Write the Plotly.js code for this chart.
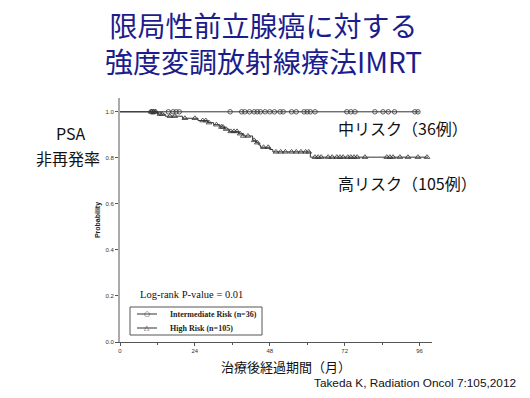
<!DOCTYPE html>
<html>
<head>
<meta charset="utf-8">
<script src="https://cdn.plot.ly/plotly-3.0.1.min.js"></script>
<style>html,body{margin:0;padding:0;background:#fff;}#chart{width:530px;height:398px;}</style>
</head>
<body>
<div id="chart"></div>
<script>
// Kaplan-Meier step data (months, survival probability)
const interTimes = [0, 96];
const interSurv = [1.0, 1.0];
const interCensor = [10, 10.5, 11, 15.5, 17, 18, 19, 35.3, 39, 40, 41.5, 43, 44, 45, 46.5, 48, 49.5, 51.3, 52.3, 55, 56.5, 59, 60, 61, 62.5, 72.7, 74, 75.3, 81.7, 84.3, 86, 88, 94.5, 95.5];

const highTimes = [0, 12, 14.5, 20, 25, 28, 30, 32, 33.5, 35, 38, 39.5, 42.5, 43.5, 44.5, 45, 48, 49, 61, 98.7];
const highSurv = [1.0, 0.99, 0.981, 0.972, 0.962, 0.953, 0.944, 0.934, 0.925, 0.915, 0.905, 0.895, 0.876, 0.866, 0.856, 0.846, 0.836, 0.826, 0.803, 0.803];
const highCensor = [10, 10.8, 11.5, 12.8, 13.5, 16, 17.5, 20.8, 24, 26.5, 27.5, 28.5, 30.9, 32.5, 33, 34, 35.5, 36.5, 37.5, 38.5, 39.5, 41, 43, 44, 46, 47.5, 50, 51.5, 53, 55, 56.5, 58, 59.5, 60.5, 62.5, 63.5, 64.5, 66.7, 68, 69.5, 70.5, 71.5, 73, 74, 75, 76, 78.5, 85.5, 86.5, 87.5, 89.7, 92.3, 95.5, 98.4];

const xTickVals = [0, 24, 48, 72, 96];
const yTickVals = [0.0, 0.2, 0.4, 0.6, 0.8, 1.0];
const legendNames = ["Intermediate Risk (n=36)", "High Risk (n=105)"];

function stepAt(times, surv, t) {
  let v = surv[0];
  for (let i = 0; i < times.length; i++) { if (times[i] <= t) v = surv[i]; }
  return v;
}

// plot area in pixels
const L = 120, R = 432, T = 98, B = 342;
const px = x => (x - L) / (R - L);
const py = y => (B - y) / (B - T);

const lineCol = '#333';
const traces = [
  {x: interTimes, y: interSurv, mode: 'lines', line: {shape: 'hv', color: lineCol, width: 1}, hoverinfo: 'skip'},
  {x: interCensor, y: interCensor.map(t => stepAt(interTimes, interSurv, t)), mode: 'markers',
   marker: {symbol: 'circle-open', size: 4.5, color: lineCol, line: {width: 0.8}}},
  {x: highTimes, y: highSurv, mode: 'lines', line: {shape: 'hv', color: lineCol, width: 1}, hoverinfo: 'skip'},
  {x: highCensor, y: highCensor.map(t => stepAt(highTimes, highSurv, t)), mode: 'markers',
   marker: {symbol: 'triangle-up-open', size: 5, color: lineCol, line: {width: 0.8}}}
];

const jp = '"Noto Sans CJK JP", "Noto Sans", sans-serif';
const titleCol = '#1c1c8c';
const serif = '"Liberation Serif", "Times New Roman", serif';

function ann(x, y, text, size, family, color, xanchor, extra) {
  return Object.assign({xref: 'paper', yref: 'paper', x: px(x), y: py(y), text: text, showarrow: false,
    font: {family: family, size: size, color: color}, xanchor: xanchor || 'center', yanchor: 'middle'}, extra || {});
}

const layout = {
  width: 530, height: 398,
  margin: {l: L, r: 530 - R, t: T, b: 398 - B},
  paper_bgcolor: '#fff', plot_bgcolor: '#fff',
  showlegend: false,
  xaxis: {range: [0, 100], tickvals: xTickVals, ticktext: xTickVals.map(String), showgrid: false, zeroline: false,
          showline: true, linecolor: '#555', linewidth: 1, ticks: 'outside', ticklen: 3, tickcolor: '#555',
          tickfont: {family: 'Arial, "Liberation Sans", sans-serif', size: 6, color: '#333'},
          minor: {tickvals: [12, 36, 60, 84], ticks: 'outside', ticklen: 2, tickcolor: '#555'}, fixedrange: true},
  yaxis: {range: [0, 1.06], tickvals: yTickVals, ticktext: yTickVals.map(v => v.toFixed(1)), showgrid: false, zeroline: false,
          showline: true, linecolor: '#aaa', linewidth: 2, ticks: 'outside', ticklen: 3, tickcolor: '#555',
          tickfont: {family: 'Arial, "Liberation Sans", sans-serif', size: 6, color: '#333'},
          title: {text: 'Probability', font: {family: 'Arial, "Liberation Sans", sans-serif', size: 7, color: '#222', weight: 'bold'}, standoff: 4},
          fixedrange: true},
  shapes: [
    {type: 'rect', xref: 'paper', yref: 'paper', x0: px(130), x1: px(262), y0: py(307), y1: py(335), line: {color: '#555', width: 1}, fillcolor: '#fff'},
    {type: 'line', xref: 'paper', yref: 'paper', x0: px(137), x1: px(157), y0: py(314), y1: py(314), line: {color: lineCol, width: 1}},
    {type: 'line', xref: 'paper', yref: 'paper', x0: px(137), x1: px(157), y0: py(328), y1: py(328), line: {color: lineCol, width: 1}}
  ],
  annotations: [
    ann(263, 43, '限局性前立腺癌に対する<br>強度変調放射線療法IMRT', 28, jp, titleCol),
    ann(70, 133, 'PSA', 16, jp, '#111'),
    ann(68, 158, '非再発率', 16, jp, '#111'),
    ann(336, 128, '中リスク（36例）', 16, jp, '#111', 'left'),
    ann(336, 183, '高リスク（105例）', 16, jp, '#111', 'left'),
    ann(286, 366, '治療後経過期間（月）', 13, jp, '#111'),
    ann(518, 383, 'Takeda K, Radiation Oncol 7:105,2012', 11.8, '"Liberation Sans", "Noto Sans", sans-serif', '#111', 'right'),
    ann(138, 294, 'Log-rank P-value = 0.01', 10.5, serif, '#111', 'left'),
    ann(147, 314, '○', 7, 'DejaVu Sans, sans-serif', lineCol),
    ann(147, 327.5, '△', 7, 'DejaVu Sans, sans-serif', lineCol),
    ann(168, 314, '<b>' + legendNames[0] + '</b>', 8, serif, '#222', 'left'),
    ann(168, 328, '<b>' + legendNames[1] + '</b>', 8, serif, '#222', 'left')
  ]
};

Plotly.newPlot('chart', traces, layout, {staticPlot: true, displayModeBar: false});
</script>
</body>
</html>
